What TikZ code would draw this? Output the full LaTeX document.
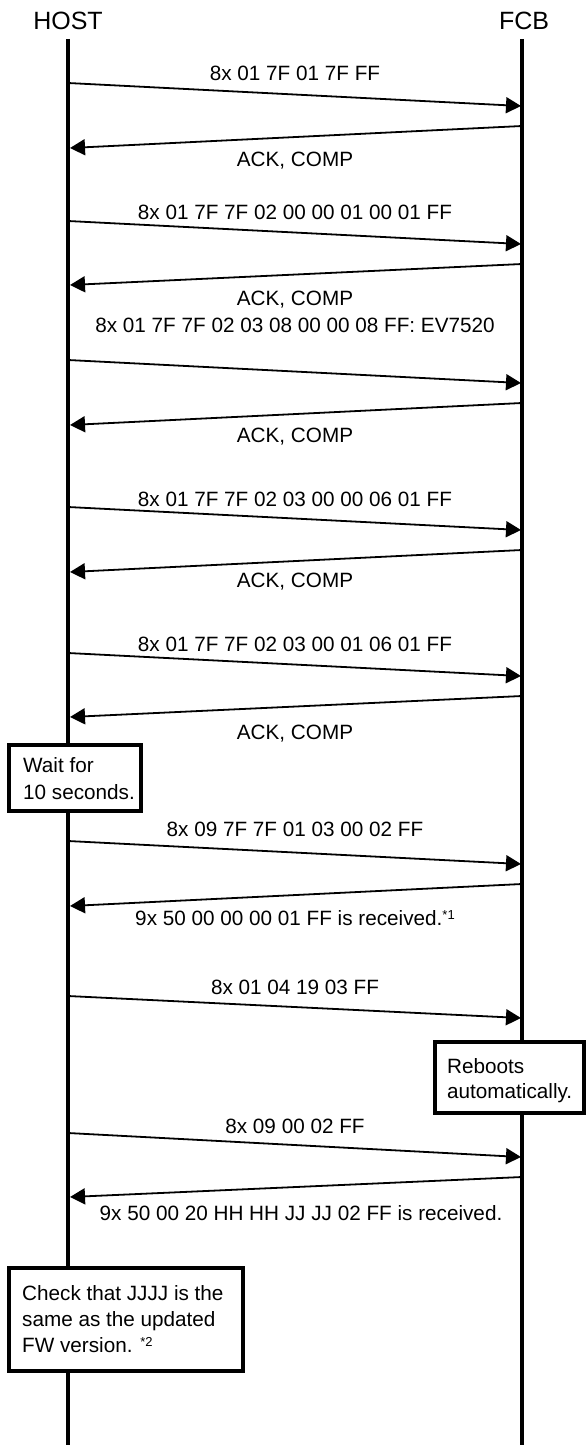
\documentclass[tikz,border=0pt]{standalone}
\usepackage{fontspec}
\setmainfont{Liberation Sans}
\usetikzlibrary{arrows.meta}
\newcommand{\noteref}[1]{\raisebox{5.5pt}{\fontsize{13}{13}\selectfont #1}}
\begin{document}
\begin{tikzpicture}[x=1pt,y=-1pt,
  lifeline/.style={line width=4pt},
  msg/.style={line width=1.8pt,-{Triangle[length=15pt,width=16pt]}},
  lbl/.style={anchor=base,inner sep=0pt,font=\fontsize{20.7}{25}\selectfont},
  actor/.style={anchor=base,inner sep=0pt,font=\fontsize{25}{30}\selectfont},
  frame/.style={draw,line width=3.6pt,fill=white,inner sep=0pt,rectangle},
  boxtext/.style={anchor=base west,inner sep=0pt}]
\useasboundingbox (0,0) rectangle (587,1445);
% actors
\node[actor] (host) at (68,30) {HOST};
\node[actor] (fcb) at (524,30) {FCB};
\coordinate (htop) at (68,39);
\coordinate (hbot) at (68,1445);
\coordinate (ftop) at (522,39);
\coordinate (fbot) at (522,1445);
\draw[lifeline] (htop) -- (hbot);
\draw[lifeline] (ftop) -- (fbot);
% message end points
\coordinate (h1) at (68,83);   \coordinate (f1) at (521,106);
\coordinate (f2) at (522,126); \coordinate (h2) at (70,148);
\coordinate (h3) at (68,221);  \coordinate (f3) at (521,244);
\coordinate (f4) at (522,264); \coordinate (h4) at (70,285);
\coordinate (h5) at (68,360);  \coordinate (f5) at (521,383);
\coordinate (f6) at (522,403); \coordinate (h6) at (70,425);
\coordinate (h7) at (68,507);  \coordinate (f7) at (521,530);
\coordinate (f8) at (522,550); \coordinate (h8) at (70,572);
\coordinate (h9) at (68,653);  \coordinate (f9) at (521,676);
\coordinate (f10) at (522,696); \coordinate (h10) at (70,717);
\coordinate (h11) at (68,841);  \coordinate (f11) at (521,864);
\coordinate (f12) at (522,884); \coordinate (h12) at (70,906);
\coordinate (h13) at (68,996);  \coordinate (f13) at (521,1018);
\coordinate (h14) at (68,1133); \coordinate (f14) at (521,1157);
\coordinate (f15) at (522,1177); \coordinate (h15) at (70,1197);
% messages
\draw[msg] (h1) -- (f1);
\draw[msg] (f2) -- (h2);
\draw[msg] (h3) -- (f3);
\draw[msg] (f4) -- (h4);
\draw[msg] (h5) -- (f5);
\draw[msg] (f6) -- (h6);
\draw[msg] (h7) -- (f7);
\draw[msg] (f8) -- (h8);
\draw[msg] (h9) -- (f9);
\draw[msg] (f10) -- (h10);
\draw[msg] (h11) -- (f11);
\draw[msg] (f12) -- (h12);
\draw[msg] (h13) -- (f13);
\draw[msg] (h14) -- (f14);
\draw[msg] (f15) -- (h15);
% labels
\node[lbl] (l1) at (295,81) {8x 01 7F 01 7F FF};
\node[lbl] (l2) at (295,166) {ACK, COMP};
\node[lbl] (l3) at (295,219) {8x 01 7F 7F 02 00 00 01 00 01 FF};
\node[lbl] (l4) at (295,305) {ACK, COMP};
\node[lbl] (l5) at (295,332) {8x 01 7F 7F 02 03 08 00 00 08 FF: EV7520};
\node[lbl] (l6) at (295,442) {ACK, COMP};
\node[lbl] (l7) at (295,506) {8x 01 7F 7F 02 03 00 00 06 01 FF};
\node[lbl] (l8) at (295,587) {ACK, COMP};
\node[lbl] (l9) at (295,651) {8x 01 7F 7F 02 03 00 01 06 01 FF};
\node[lbl] (l10) at (295,739) {ACK, COMP};
\node[lbl] (l11) at (295,836) {8x 09 7F 7F 01 03 00 02 FF};
\node[lbl] (l12) at (295,925) {9x 50 00 00 00 01 FF is received.\noteref{*1}};
\node[lbl] (l13) at (295,994) {8x 01 04 19 03 FF};
\node[lbl] (l14) at (295,1133) {8x 09 00 02 FF};
\node[lbl] (l15) at (301,1220) {9x 50 00 20 HH HH JJ JJ 02 FF is received.};
% boxes
\node[frame,minimum width=132.4pt,minimum height=66.4pt] (waitbox) at (75,778) {};
\node[boxtext,font=\fontsize{20.7}{27}\selectfont] (waittxt) at (23,772)
  {\begin{tabular}[t]{@{}l@{}}Wait for\\10 seconds.\end{tabular}};
\node[frame,minimum width=149.4pt,minimum height=71.4pt] (rebootbox) at (509.5,1077.5) {};
\node[boxtext,font=\fontsize{20.7}{25}\selectfont] (reboottxt) at (447,1073)
  {\begin{tabular}[t]{@{}l@{}}Reboots\\automatically.\end{tabular}};
\node[frame,minimum width=234.4pt,minimum height=103.4pt] (checkbox) at (126,1319.5) {};
\node[boxtext,font=\fontsize{20.7}{26}\selectfont] (checktxt) at (22,1300)
  {\begin{tabular}[t]{@{}l@{}}Check that JJJJ is the\\same as the updated\\FW version. \noteref{*2}\end{tabular}};
\end{tikzpicture}
\end{document}
